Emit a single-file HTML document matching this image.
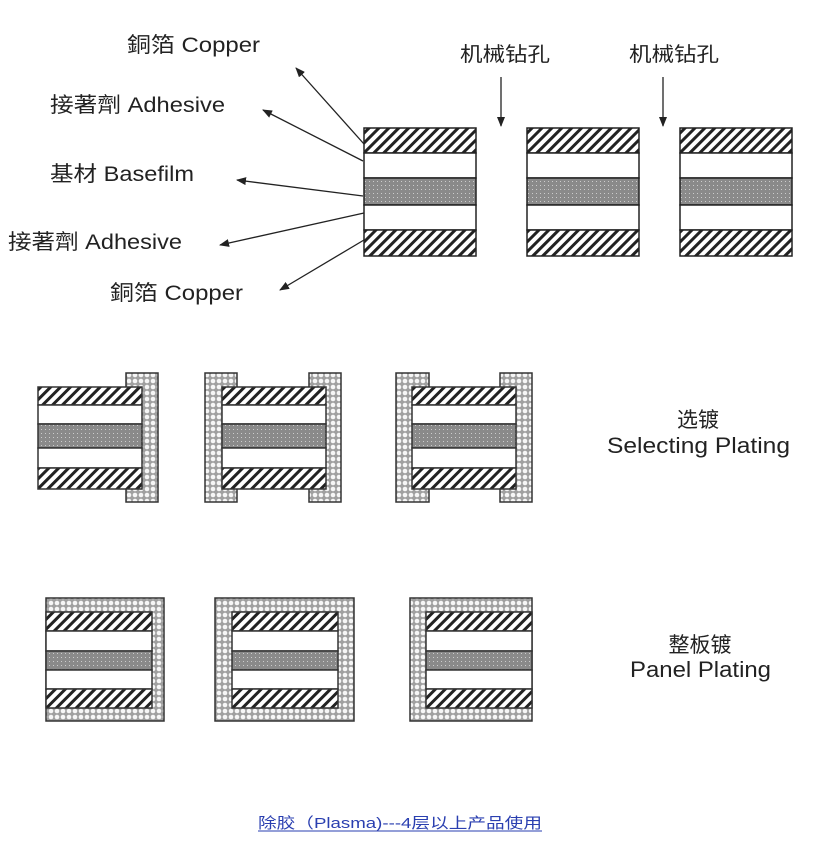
<!DOCTYPE html>
<html><head><meta charset="utf-8"><style>
html,body{margin:0;padding:0;background:#fff;}
svg{display:block;}
text{font-family:"Liberation Sans","Noto Sans CJK SC",sans-serif;fill:#222;}
</style></head><body>
<svg width="829" height="857" viewBox="0 0 829 857" xmlns="http://www.w3.org/2000/svg">
<defs>
<pattern id="hat" patternUnits="userSpaceOnUse" width="7" height="7" patternTransform="rotate(45)">
<rect width="7" height="7" fill="#fff"/><rect width="3" height="7" fill="#222"/></pattern>
<pattern id="dot" patternUnits="userSpaceOnUse" width="4" height="4">
<rect width="4" height="4" fill="#8a8a8a"/><rect x="1" y="1" width="1" height="1" fill="#ccc"/></pattern>
<pattern id="xh" patternUnits="userSpaceOnUse" width="6" height="6">
<rect width="6" height="6" fill="#a0a0a0"/><circle cx="3" cy="3" r="2.3" fill="#f6f6f6"/></pattern>
<marker id="ar" markerWidth="10" markerHeight="8" refX="9" refY="4" orient="auto" markerUnits="userSpaceOnUse">
<path d="M0,0 L10,4 L0,8 z" fill="#222"/></marker>
</defs>

<g stroke="#222" stroke-width="1.5">
<g id="s1">
<rect x="364" y="128" width="112" height="25" fill="url(#hat)"/>
<rect x="364" y="153" width="112" height="25" fill="#fff"/>
<rect x="364" y="178" width="112" height="27" fill="url(#dot)"/>
<rect x="364" y="205" width="112" height="25" fill="#fff"/>
<rect x="364" y="230" width="112" height="26" fill="url(#hat)"/>
</g>
<use href="#s1" x="163"/>
<use href="#s1" x="316"/>
</g>

<g stroke="#222" stroke-width="1.3" marker-end="url(#ar)">
<line x1="364" y1="144" x2="296" y2="68"/>
<line x1="363" y1="161" x2="263" y2="110"/>
<line x1="363" y1="196" x2="237" y2="180"/>
<line x1="364" y1="213" x2="220" y2="245"/>
<line x1="364" y1="240" x2="280" y2="290"/>
<line x1="501" y1="77" x2="501" y2="126"/>
<line x1="663" y1="77" x2="663" y2="126"/>
</g>
<g font-size="21">
<text x="127" y="52" textLength="133" lengthAdjust="spacingAndGlyphs">銅箔 Copper</text>
<text x="50" y="112" textLength="175" lengthAdjust="spacingAndGlyphs">接著劑 Adhesive</text>
<text x="50" y="181" textLength="144" lengthAdjust="spacingAndGlyphs">基材 Basefilm</text>
<text x="8" y="249" textLength="174" lengthAdjust="spacingAndGlyphs">接著劑 Adhesive</text>
<text x="110" y="300" textLength="133" lengthAdjust="spacingAndGlyphs">銅箔 Copper</text>
<text x="460" y="61" font-size="20" textLength="90" lengthAdjust="spacingAndGlyphs">机械钻孔</text>
<text x="629" y="61" font-size="20" textLength="90" lengthAdjust="spacingAndGlyphs">机械钻孔</text>
</g>

<g stroke="#333" stroke-width="1.5">
<rect x="126" y="373" width="32" height="129" fill="url(#xh)"/>
<g id="st2">
<rect x="38" y="387" width="104" height="18" fill="url(#hat)"/>
<rect x="38" y="405" width="104" height="19" fill="#fff"/>
<rect x="38" y="424" width="104" height="24" fill="url(#dot)"/>
<rect x="38" y="448" width="104" height="20" fill="#fff"/>
<rect x="38" y="468" width="104" height="21" fill="url(#hat)"/>
</g>
<rect x="205" y="373" width="32" height="129" fill="url(#xh)"/>
<rect x="309" y="373" width="32" height="129" fill="url(#xh)"/>
<use href="#st2" x="184"/>
<rect x="396" y="373" width="33" height="129" fill="url(#xh)"/>
<rect x="500" y="373" width="32" height="129" fill="url(#xh)"/>
<use href="#st2" x="374"/>
</g>
<text x="698" y="427" font-size="21" text-anchor="middle">选镀</text>
<text x="607" y="453" font-size="22" textLength="183" lengthAdjust="spacingAndGlyphs">Selecting Plating</text>

<g stroke="#333" stroke-width="1.5">
<rect x="46" y="598" width="118" height="123" fill="url(#xh)"/>
<g id="st3">
<rect x="46" y="612" width="106" height="19" fill="url(#hat)"/>
<rect x="46" y="631" width="106" height="20" fill="#fff"/>
<rect x="46" y="651" width="106" height="19" fill="url(#dot)"/>
<rect x="46" y="670" width="106" height="19" fill="#fff"/>
<rect x="46" y="689" width="106" height="19" fill="url(#hat)"/>
</g>
<rect x="215" y="598" width="139" height="123" fill="url(#xh)"/>
<use href="#st3" x="186"/>
<rect x="410" y="598" width="122" height="123" fill="url(#xh)"/>
<use href="#st3" x="380"/>
</g>
<text x="700" y="652" font-size="21" text-anchor="middle">整板镀</text>
<text x="630" y="677" font-size="22" textLength="141" lengthAdjust="spacingAndGlyphs">Panel Plating</text>

<text x="258" y="828" font-size="15" textLength="284" lengthAdjust="spacingAndGlyphs" style="fill:#2a3fb0">除胶（Plasma)---4层以上产品使用</text>
<line x1="258" y1="831" x2="542" y2="831" stroke="#2a3fb0" stroke-width="1"/>
</svg>
</body></html>
